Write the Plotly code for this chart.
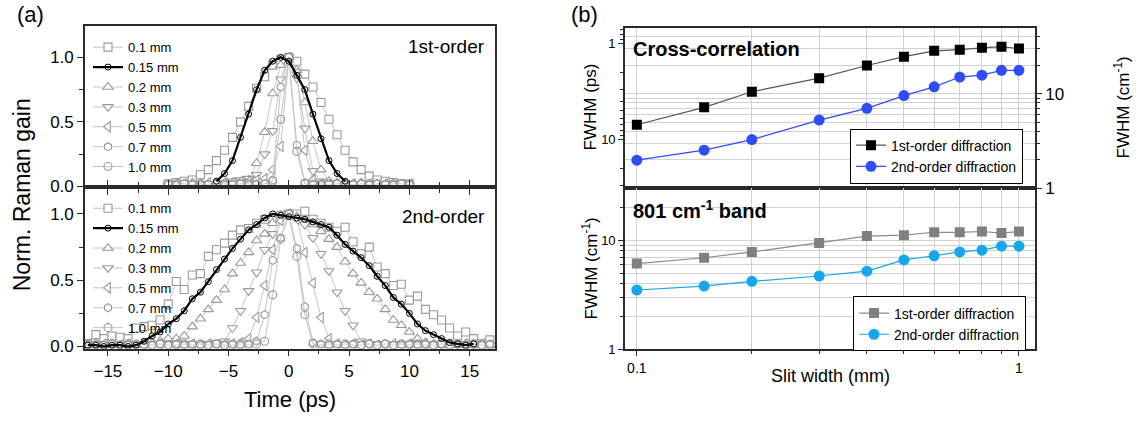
import plotly.graph_objects as go

# ---------------- DATA ----------------
T1 = [-10.0, -9.33, -8.67, -8.0, -7.33, -6.67, -6.0, -5.33, -4.67, -4.0, -3.33, -2.67, -2.0, -1.33, -0.67,
      0.0, 0.67, 1.33, 2.0, 2.67, 3.33, 4.0, 4.67, 5.33, 6.0, 6.67, 7.33, 8.0, 8.67, 9.33, 10.0]
T2 = [-16.67, -16.0, -15.33, -14.67, -14.0, -13.33, -12.67, -12.0, -11.33, -10.67, -10.0, -9.33, -8.67,
      -8.0, -7.33, -6.67, -6.0, -5.33, -4.67, -4.0, -3.33, -2.67, -2.0, -1.33, -0.67, 0.0, 0.67, 1.33,
      2.0, 2.67, 3.33, 4.0, 4.67, 5.33, 6.0, 6.67, 7.33, 8.0, 8.67, 9.33, 10.0, 10.67, 11.33, 12.0,
      12.67, 13.33, 14.0, 14.67, 15.33, 16.0, 16.67]

slit_labels = ["0.1 mm", "0.15 mm", "0.2 mm", "0.3 mm", "0.5 mm", "0.7 mm", "1.0 mm"]

# 1st-order normalized Raman gain
g1_01 = [0.02, 0.03, 0.04, 0.05, 0.09, 0.13, 0.20, 0.28, 0.38, 0.50, 0.62, 0.76, 0.85, 0.94, 0.98,
         1.00, 0.97, 0.87, 0.77, 0.65, 0.52, 0.40, 0.28, 0.19, 0.13, 0.08, 0.05, 0.04, 0.03, 0.02, 0.02]
g1_015 = [None, None, None, None, None, None, 0.04, 0.10, 0.20, 0.38, 0.56, 0.75, 0.90, 0.97, 1.00,
          0.97, 0.86, 0.75, 0.56, 0.37, 0.20, 0.10, 0.04, None, None, None, None, None, None, None, None]
g1_02 = [0.02, 0.01, 0.02, 0.03, 0.02, 0.02, 0.03, 0.02, 0.03, 0.03, 0.05, 0.18, 0.42, 0.72, 0.94,
         1.00, 0.90, 0.65, 0.35, 0.13, 0.04, 0.03, 0.02, 0.02, 0.03, 0.02, 0.02, 0.01, 0.02, 0.02, 0.01]
g1_03 = [0.01, 0.02, 0.01, 0.02, 0.02, 0.01, 0.02, 0.03, 0.04, 0.05, 0.06, 0.09, 0.25, 0.43, 0.83,
         1.00, 0.84, 0.45, 0.12, 0.04, 0.03, 0.02, 0.02, 0.01, 0.02, 0.02, 0.01, 0.02, 0.01, 0.02, 0.01]
g1_05 = [0.01, 0.02, 0.02, 0.01, 0.02, 0.03, 0.02, 0.03, 0.03, 0.04, 0.04, 0.05, 0.06, 0.13, 0.31,
         1.00, 0.88, 0.28, 0.05, 0.02, 0.02, 0.01, 0.02, 0.02, 0.01, 0.02, 0.01, 0.02, 0.01, 0.01, 0.02]
g1_07 = [0.02, 0.01, 0.02, 0.02, 0.01, 0.02, 0.02, 0.01, 0.02, 0.02, 0.01, 0.02, 0.02, 0.05, 0.77,
         1.00, 0.32, 0.03, 0.02, 0.01, 0.02, 0.02, 0.01, 0.02, 0.02, 0.01, 0.02, 0.02, 0.01, 0.02, 0.02]
g1_10 = [0.01, 0.02, 0.02, 0.01, 0.02, 0.01, 0.02, 0.02, 0.01, 0.02, 0.02, 0.01, 0.02, 0.04, 0.52,
         1.00, 0.27, 0.02, 0.01, 0.02, 0.01, 0.02, 0.02, 0.01, 0.02, 0.01, 0.02, 0.01, 0.02, 0.02, 0.01]

# 2nd-order normalized Raman gain
g2_01 = [0.02, 0.09, 0.06, 0.08, 0.07, 0.06, 0.14, 0.15, 0.16, 0.20, 0.32, 0.49, 0.43, 0.54, 0.55,
         0.68, 0.73, 0.78, 0.84, 0.88, 0.89, 0.93, 0.96, 0.97, 0.99, 1.00, 1.00, 1.02, 0.96, 0.93,
         0.90, 0.87, 0.90, 0.79, 0.70, 0.75, 0.60, 0.55, 0.46, 0.47, 0.35, 0.38, 0.28, 0.24, 0.20,
         0.14, 0.08, 0.11, 0.06, 0.02, 0.05]
g2_015 = [0.01, 0.01, 0.00, 0.01, 0.01, 0.00, 0.01, 0.04, 0.08, 0.11, 0.17, 0.21, 0.27, 0.36, 0.41,
          0.49, 0.58, 0.66, 0.74, 0.81, 0.88, 0.92, 0.97, 1.00, 0.99, 0.98, 0.97, 0.96, 0.94, 0.92,
          0.90, 0.84, 0.77, 0.72, 0.67, 0.61, 0.53, 0.46, 0.37, 0.32, 0.25, 0.17, 0.12, 0.09, 0.06,
          0.03, 0.02, 0.01, 0.02, None, None]
g2_02 = [0.01, 0.02, 0.01, 0.02, 0.01, 0.02, 0.01, 0.02, 0.03, 0.04, 0.06, 0.06, 0.08, 0.15, 0.21,
         0.28, 0.35, 0.43, 0.55, 0.63, 0.71, 0.80, 0.85, 0.93, 0.99, 1.00, 0.98, 0.95, 0.92, 0.87,
         0.81, 0.75, 0.64, 0.55, 0.48, 0.41, 0.36, 0.28, 0.20, 0.16, 0.11, 0.06, 0.03, 0.02, 0.01,
         0.02, 0.01, 0.02, 0.01, 0.02, 0.01]
g2_03 = [0.01, 0.02, 0.01, 0.01, 0.02, 0.01, 0.02, 0.01, 0.02, 0.01, 0.02, 0.01, 0.02, 0.02, 0.01,
         0.02, 0.03, 0.04, 0.14, 0.27, 0.42, 0.56, 0.73, 0.85, 0.96, 1.00, 0.97, 0.92, 0.82, 0.70,
         0.57, 0.41, 0.27, 0.16, 0.04, 0.02, 0.01, 0.02, 0.01, 0.02, 0.01, 0.02, 0.01, 0.02, 0.01,
         0.02, 0.01, 0.02, 0.01, 0.02, 0.01]
g2_05 = [0.02, 0.01, 0.02, 0.01, 0.01, 0.02, 0.01, 0.02, 0.01, 0.02, 0.01, 0.02, 0.01, 0.02, 0.01,
         0.02, 0.01, 0.02, 0.02, 0.03, 0.06, 0.22, 0.46, 0.73, 0.95, 1.00, 0.96, 0.71, 0.48, 0.22,
         0.06, 0.02, 0.01, 0.02, 0.01, 0.02, 0.01, 0.01, 0.02, 0.01, 0.02, 0.01, 0.02, 0.01, 0.01,
         0.02, 0.01, 0.02, 0.01, 0.02, 0.01]
g2_07 = [0.01, 0.02, 0.01, 0.02, 0.01, 0.01, 0.02, 0.01, 0.01, 0.02, 0.01, 0.02, 0.01, 0.02, 0.01,
         0.01, 0.02, 0.01, 0.02, 0.01, 0.02, 0.04, 0.24, 0.65, 0.82, 1.00, 0.74, 0.30, 0.03, 0.02,
         0.01, 0.02, 0.01, 0.02, 0.01, 0.02, 0.01, 0.02, 0.01, 0.01, 0.02, 0.01, 0.02, 0.01, 0.02,
         0.01, 0.02, 0.01, 0.02, 0.01, 0.02]
g2_10 = [0.02, 0.01, 0.01, 0.02, 0.01, 0.02, 0.01, 0.02, 0.01, 0.02, 0.01, 0.01, 0.02, 0.01, 0.02,
         0.01, 0.02, 0.01, 0.01, 0.02, 0.01, 0.02, 0.04, 0.39, 0.81, 1.00, 0.68, 0.24, 0.02, 0.01,
         0.02, 0.01, 0.02, 0.01, 0.01, 0.02, 0.01, 0.02, 0.01, 0.02, 0.01, 0.02, 0.01, 0.01, 0.02,
         0.01, 0.02, 0.01, 0.02, 0.01, 0.01]

# Panel (b)
slit = [0.1, 0.15, 0.2, 0.3, 0.4, 0.5, 0.6, 0.7, 0.8, 0.9, 1.0]
xc_1st_ps = [7.0, 4.6, 3.16, 2.28, 1.68, 1.36, 1.18, 1.15, 1.10, 1.07, 1.12]
xc_2nd_ps = [16.4, 12.9, 10.0, 6.25, 4.71, 3.47, 2.81, 2.22, 2.12, 1.89, 1.89]
band_1st = [6.1, 6.9, 7.8, 9.4, 10.9, 11.1, 11.8, 11.8, 12.0, 11.6, 12.0]
band_2nd = [3.5, 3.8, 4.2, 4.7, 5.2, 6.6, 7.2, 7.8, 8.1, 8.8, 8.8]
order_labels = ["1st-order diffraction", "2nd-order diffraction"]

# ---------------- FIGURE ----------------
W, H = 1143, 421
def px(x): return x / W
def py(y): return 1 - y / H

FONT = "Liberation Sans, Arial, sans-serif"
GRAYM = "#999999"
GRAYL = "#c4c4c4"
AX = "#2a2a2a"

fig = go.Figure()

styles = [
    ("square", 8), ("circle-open", 6), ("triangle-up", 9), ("triangle-down", 9),
    ("triangle-left", 9), ("hexagon", 8), ("circle-open", 8)
]

def add_panel_a(T, series, xa, ya, leg):
    for k, (lab, vals) in enumerate(zip(slit_labels, series)):
        sym, sz = styles[k]
        if k == 1:
            continue
        mk = dict(symbol=sym, size=sz, color="white", line=dict(color=GRAYM, width=1.1))
        if sym.endswith("open"):
            mk = dict(symbol=sym, size=sz, color=GRAYM, line=dict(width=1.1))
        fig.add_trace(go.Scatter(x=T, y=vals, xaxis=xa, yaxis=ya, mode="lines+markers",
                                 name=lab, legend=leg, legendrank=k + 1,
                                 line=dict(color=GRAYL, width=1), marker=mk))
    sym, sz = styles[1]
    fig.add_trace(go.Scatter(x=T, y=series[1], xaxis=xa, yaxis=ya, mode="lines+markers",
                             name=slit_labels[1], legend=leg, legendrank=2,
                             line=dict(color="black", width=2.2),
                             marker=dict(symbol=sym, size=sz, color="black", line=dict(width=1))))

add_panel_a(T1, [g1_01, g1_015, g1_02, g1_03, g1_05, g1_07, g1_10], "x", "y", "legend")
add_panel_a(T2, [g2_01, g2_015, g2_02, g2_03, g2_05, g2_07, g2_10], "x2", "y2", "legend2")

# panel (b) top
fig.add_trace(go.Scatter(x=slit, y=xc_1st_ps, xaxis="x4", yaxis="y4", mode="lines+markers",
                         name=order_labels[0], legend="legend3",
                         line=dict(color="#555555", width=1.2),
                         marker=dict(symbol="square", size=10, color="black")))
fig.add_trace(go.Scatter(x=slit, y=xc_2nd_ps, xaxis="x4", yaxis="y4", mode="lines+markers",
                         name=order_labels[1], legend="legend3",
                         line=dict(color="#2f4cf5", width=1.2),
                         marker=dict(symbol="circle", size=11, color="#2f4cf5")))
# empty trace so that the right-hand (cm^-1) axis of the top-right panel is drawn
fig.add_trace(go.Scatter(x=[], y=[], xaxis="x4", yaxis="y5", showlegend=False,
                         hoverinfo="skip"))
# panel (b) bottom
fig.add_trace(go.Scatter(x=slit, y=band_1st, xaxis="x5", yaxis="y6", mode="lines+markers",
                         name=order_labels[0], legend="legend4",
                         line=dict(color="#8a8a8a", width=1.2),
                         marker=dict(symbol="square", size=10, color="#808080")))
fig.add_trace(go.Scatter(x=slit, y=band_2nd, xaxis="x5", yaxis="y6", mode="lines+markers",
                         name=order_labels[1], legend="legend4",
                         line=dict(color="#16a6ee", width=1.2),
                         marker=dict(symbol="circle", size=11, color="#16a6ee")))

XA = [px(85), px(495)]
XB = [px(625), px(1035)]
common = dict(showline=True, linecolor=AX, linewidth=1.6, zeroline=False, showgrid=False,
              ticklen=6, tickwidth=1.2, tickcolor=AX)

xt = [-15, -10, -5, 0, 5, 10, 15]
fig.update_layout(
    xaxis=dict(domain=XA, anchor="y", range=[-16.9, 17.1], tickvals=xt, showticklabels=False,
               ticks="outside", mirror=True,
               minor=dict(dtick=2.5, tick0=0, ticks="outside", ticklen=4, tickcolor=AX), **common),
    yaxis=dict(domain=[py(192), py(27)], anchor="x", range=[-0.008, 1.24], tickvals=[0, 0.5, 1.0],
               ticktext=["0.0", "0.5", "1.0"], ticks="outside", mirror=True,
               tickfont=dict(size=17),
               minor=dict(dtick=0.25, tick0=0, ticks="outside", ticklen=4, tickcolor=AX), **common),
    xaxis2=dict(domain=XA, anchor="y2", range=[-16.9, 17.1], tickvals=xt, ticks="outside",
                mirror="ticks", tickfont=dict(size=17),
                minor=dict(dtick=2.5, tick0=0, ticks="outside", ticklen=4, tickcolor=AX), **common),
    yaxis2=dict(domain=[py(357), py(192)], anchor="x2", range=[-0.015, 1.2], tickvals=[0, 0.5, 1.0],
                ticktext=["0.0", "0.5", "1.0"], ticks="outside", mirror=True,
                tickfont=dict(size=17),
                minor=dict(dtick=0.25, tick0=0, ticks="outside", ticklen=4, tickcolor=AX), **common),
)

GRID = "#d2d2d2"
xminor = [0.2, 0.3, 0.4, 0.5, 0.6, 0.7, 0.8, 0.9]
common_b = dict(showline=True, linecolor=AX, linewidth=1.6, zeroline=False,
                ticklen=5, tickwidth=1.2, tickcolor=AX)
fig.update_layout(
    xaxis4=dict(domain=XB, anchor="y4", type="log", range=[-1.031, 0.042], tickvals=[0.1, 1],
                showticklabels=False, ticks="", mirror=True, showgrid=True, gridcolor=GRID,
                minor=dict(tickvals=xminor, showgrid=True, gridcolor=GRID, ticks=""), **common_b),
    yaxis4=dict(domain=[py(193), py(29)], anchor="x4", type="log", range=[1.510, -0.163],
                tickvals=[1, 10], ticktext=["1", "10"], ticks="outside", mirror=False,
                showgrid=False, tickfont=dict(size=13),
                minor=dict(tickvals=[0.7, 0.8, 0.9, 2, 3, 4, 5, 6, 7, 8, 9, 20, 30],
                           ticks="outside", ticklen=3, tickcolor=AX, showgrid=False), **common_b),
    yaxis5=dict(overlaying="y4", anchor="x4", side="right", type="log", range=[0, 1.69],
                tickvals=[1, 10], ticktext=["1", "10"], ticks="outside", showgrid=True,
                gridcolor=GRID, tickfont=dict(size=17),
                minor=dict(tickvals=[2, 3, 4, 5, 6, 7, 8, 9, 20, 30, 40], ticks="outside",
                           ticklen=3, tickcolor=AX, showgrid=True, gridcolor=GRID), **common_b),
    xaxis5=dict(domain=XB, anchor="y6", type="log", range=[-1.031, 0.042], tickvals=[0.1, 1],
                ticktext=["0.1", "1"], ticks="outside", mirror=True, showgrid=True, gridcolor=GRID,
                tickfont=dict(size=14),
                minor=dict(tickvals=xminor, showgrid=True, gridcolor=GRID, ticks="outside",
                           ticklen=3, tickcolor=AX), **common_b),
    yaxis6=dict(domain=[py(358), py(193)], anchor="x5", type="log", range=[0, 1.473],
                tickvals=[1, 10], ticktext=["1", "10"], ticks="outside", mirror=True,
                showgrid=True, gridcolor=GRID, tickfont=dict(size=13),
                minor=dict(tickvals=[2, 3, 4, 5, 6, 7, 8, 9, 20], ticks="outside", ticklen=3,
                           tickcolor=AX, showgrid=True, gridcolor=GRID), **common_b),
)

leg_a = dict(xanchor="left", yanchor="top", bgcolor="rgba(0,0,0,0)", borderwidth=0,
             font=dict(size=13, family=FONT), itemwidth=30, tracegroupgap=0)
leg_b = dict(xanchor="right", yanchor="bottom", bgcolor="white", bordercolor="black",
             borderwidth=1, font=dict(size=14, family=FONT), itemwidth=30, tracegroupgap=0)
fig.update_layout(
    legend=dict(x=px(88), y=py(33), **leg_a),
    legend2=dict(x=px(88), y=py(198), **leg_a),
    legend3=dict(x=px(1023), y=py(188), **leg_b),
    legend4=dict(x=px(1026), y=py(360), **leg_b),
)

def ann(text, x, y, size, xanchor="center", angle=0, bold=False):
    if bold:
        text = "<b>" + text + "</b>"
    fig.add_annotation(text=text, x=px(x), y=py(y), xref="paper", yref="paper",
                       xanchor=xanchor, yanchor="middle", showarrow=False, textangle=angle,
                       font=dict(size=size, family=FONT, color="black"))

ann("(a)", 30, 15, 22)
ann("(b)", 584, 15, 22)
ann("1st-order", 487, 48, 19, xanchor="right")
ann("2nd-order", 487, 222, 19, xanchor="right")
ann("Norm. Raman gain", 22, 200, 23, angle=-90)
ann("Time (ps)", 290, 409, 22)
ann("Cross-correlation", 631, 50, 20, xanchor="left", bold=True)
ann("801 cm<sup>-1</sup> band", 631, 215, 20, xanchor="left", bold=True)
ann("FWHM (ps)", 590, 110, 17, angle=-90)
ann("FWHM (cm<sup>-1</sup>)", 590, 275, 17, angle=-90)
ann("FWHM (cm<sup>-1</sup>)", 1122, 110, 17, angle=-90)
ann("Slit width (mm)", 830, 385, 18)

fig.update_layout(width=W, height=H, margin=dict(l=0, r=0, t=0, b=0),
                  paper_bgcolor="white", plot_bgcolor="white",
                  font=dict(family=FONT, color="black"))

fig.write_html("out.html")
